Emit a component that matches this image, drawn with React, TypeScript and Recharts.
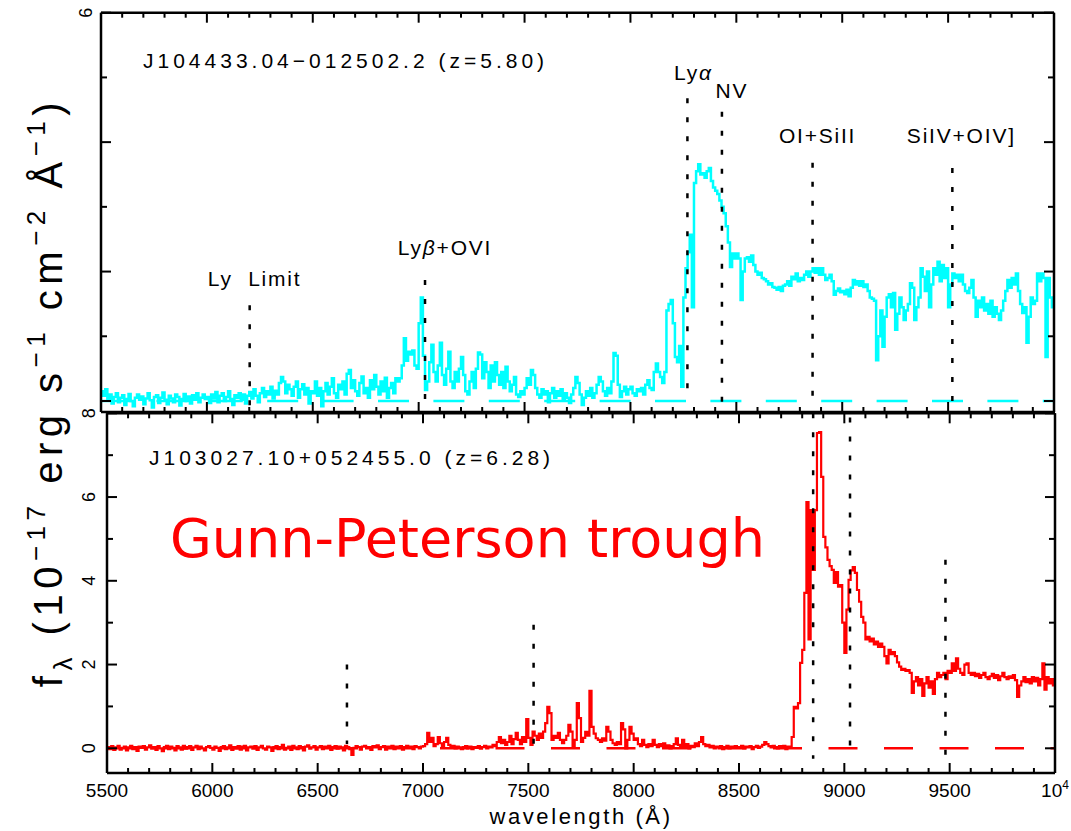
import React from 'react';
import { LineChart, Line, XAxis, YAxis, ReferenceLine } from 'recharts';

const FONT = '"Liberation Sans", Arial, Helvetica, sans-serif';
const CYAN = '#00ffff';
const RED = '#ff0000';

// spectra are binned at 10 Å starting from 5500 Å; flux in 1e-17 erg/s/cm^2/Å
const BIN = 10;
const START = 5500;

// J104433.04-012502.2 (z=5.80)
const top5500 = [
  0.15, 0.08, 0.18, 0.02, 0.1, -0.04, 0.06, 0.12, -0.02, 0.05,
  0.09, -0.06, 0.03, 0.11, 0.0, -0.08, 0.05, 0.1, 0.02, 0.07,
  -0.05, 0.04, 0.12, 0.01, -0.1, 0.06, 0.09, -0.03, 0.05, 0.13,
  0.02, -0.05, 0.08, 0.04, -0.02, 0.1, 0.06, -0.07, 0.03, 0.11,
  0.0, 0.07, -0.04, 0.09, 0.02, 0.12, -0.02, 0.05, 0.1, 0.03,
];
const top6000 = [
  0.06, -0.03, 0.1, 0.04, 0.14, -0.02, 0.08, 0.12, 0.0, 0.06,
  0.15, 0.03, -0.06, 0.09, 0.05, 0.12, 0.02, 0.1, -0.04, 0.08,
  0.14, 0.04, 0.18, 0.08, -0.02, 0.12, 0.2, 0.06, 0.15, 0.1,
  0.22, 0.04, 0.16, 0.1, 0.28, 0.37, 0.3, 0.12, 0.25, 0.18,
  0.08, 0.22, 0.3, 0.05, 0.18, 0.26, 0.1, 0.2, -0.04, 0.15,
];
const top6500 = [
  0.12, 0.3, 0.08, 0.2, -0.08, 0.15, 0.28, 0.1, 0.22, 0.35,
  0.12, 0.05, 0.25, 0.18, 0.3, 0.1, 0.42, 0.48, 0.2, 0.32,
  0.15, 0.08, 0.28, 0.38, 0.12, 0.2, 0.05, 0.32, 0.18, 0.4,
  0.22, 0.1, 0.3, 0.15, 0.36, 0.05, 0.2, 0.28, 0.12, 0.35,
  0.3, 0.35, 0.55, 0.97, 0.62, 0.76, 0.72, 0.78, 0.55, 0.5,
];
const top7000 = [
  1.2, 1.6, 0.7, 0.17, 0.3, 0.6, 0.87, 0.45, 0.3, 0.55,
  0.9, 0.4, 0.25, 0.5, 0.76, 0.3, 0.2, 0.45, 0.3, 0.5,
  0.68, 0.4, 0.15, 0.1, 0.3, 0.45, 0.2, 0.5, 0.75, 0.72,
  0.35, 0.6, 0.45, 0.2, 0.55, 0.3, 0.6, 0.4, 0.25, 0.45,
  0.2, 0.53, 0.3, 0.15, 0.25, 0.37, 0.1, 0.06, 0.15, 0.1,
];
const top7500 = [
  0.2, 0.35, 0.25, 0.48, 0.4, 0.2, 0.1, 0.05, 0.18, 0.1,
  0.15, -0.02, 0.12, 0.2, 0.05, 0.15, 0.08, 0.18, 0.02, 0.12,
  0.05, -0.03, 0.1, 0.2, 0.37, 0.28, 0.1, -0.06, 0.05, 0.15,
  0.08, 0.2, 0.05, 0.12, 0.25, 0.37, 0.3, 0.15, 0.08, 0.2,
  0.12, 0.3, 0.74, 0.7, 0.25, 0.06, 0.15, 0.22, 0.1, 0.18,
];
const top8000 = [
  0.22, 0.12, 0.08, 0.18, 0.15, 0.2, 0.1, 0.25, 0.32, 0.2,
  0.17, 0.45, 0.58, 0.45, 0.37, 0.28, 0.45, 1.4, 1.5, 1.56,
  1.2, 0.68, 0.6, 0.85, 0.22, 1.6, 2.05, 2.3, 2.57, 1.45,
  3.37, 3.55, 3.66, 3.5, 3.52, 3.45, 3.55, 3.6, 3.4, 3.3,
  3.25, 3.2, 3.1, 3.0, 2.9, 2.7, 2.45, 2.07, 2.28, 2.2,
];
const top8500 = [
  2.28, 2.2, 1.56, 2.0, 2.2, 2.22, 2.15, 2.25, 2.1, 2.0,
  1.95, 1.98, 1.9, 1.88, 1.85, 1.8, 1.82, 1.76, 1.75, 1.72,
  1.76, 1.7, 1.78, 1.8, 1.85, 1.78, 1.92, 1.88, 1.97, 1.85,
  1.9, 1.87, 1.95, 2.0, 1.92, 2.0, 2.05, 1.98, 2.05, 1.95,
  2.05, 1.95, 1.87, 1.9, 1.95, 1.85, 1.64, 1.7, 1.74, 1.68,
];
const top9000 = [
  1.7, 1.65, 1.72, 1.62, 1.75, 1.87, 1.8, 1.85, 1.78, 1.85,
  1.76, 1.8, 1.7, 1.6, 1.58, 1.55, 0.63, 1.0, 1.4, 0.84,
  1.3, 1.6, 1.65, 1.45, 1.67, 1.1, 1.35, 1.6, 1.45, 1.25,
  1.4, 1.5, 1.82, 1.75, 1.25, 1.45, 1.6, 2.05, 1.92, 1.7,
  2.0, 1.45, 1.8, 2.05, 1.95, 2.15, 1.85, 2.1, 1.9, 2.05,
];
const top9500 = [
  1.45, 1.8, 1.97, 1.9, 1.95, 1.85, 1.95, 1.8, 1.7, 1.67,
  1.75, 1.87, 1.6, 1.3, 1.55, 1.45, 1.6, 1.4, 1.5, 1.35,
  1.55, 1.3, 1.45, 1.35, 1.25, 1.4, 1.55, 1.7, 1.87, 1.75,
  1.9, 1.8, 1.97, 1.7, 1.5, 1.36, 1.45, 0.9, 1.3, 1.6,
  1.5, 1.55, 1.97, 1.85, 1.97, 1.9, 0.68, 1.9, 1.6, 1.45,
  1.5,
];

// J103027.10+052455.0 (z=6.28)
const low5500 = [
  0.03, -0.02, 0.05, -0.04, 0.02, 0.06, -0.03, 0.01, 0.04, -0.05,
  0.02, 0.06, -0.02, 0.03, -0.06, 0.04, 0.01, 0.05, -0.03, 0.02,
  0.07, -0.01, 0.03, -0.04, 0.05, 0.0, -0.07, 0.03, 0.06, -0.02,
  0.04, 0.01, -0.05, 0.05, 0.02, -0.03, 0.06, -0.01, 0.03, 0.05,
  -0.04, 0.02, 0.06, -0.02, 0.04, 0.0, -0.05, 0.03, 0.05, 0.01,
];
const low6000 = [
  -0.03, 0.04, 0.01, -0.06, 0.03, 0.05, -0.02, 0.02, 0.07, -0.04,
  0.03, 0.0, 0.05, -0.03, 0.04, 0.06, -0.05, 0.02, 0.04, -0.01,
  0.05, -0.04, 0.02, 0.06, 0.0, -0.03, 0.04, 0.02, -0.06, 0.03,
  0.05, -0.02, 0.03, 0.08, -0.03, 0.01, 0.04, -0.04, 0.06, 0.02,
  -0.02, 0.05, 0.03, -0.05, 0.04, 0.07, -0.01, 0.02, 0.05, -0.03,
];
const low6500 = [
  0.02, 0.05, -0.02, 0.04, 0.0, 0.06, -0.04, 0.03, 0.05, -0.01,
  0.04, 0.02, -0.05, 0.06, 0.03, -0.02, -0.16, 0.01, 0.05, 0.03,
  -0.03, 0.04, 0.06, 0.0, 0.03, -0.04, 0.05, 0.02, 0.07, -0.02,
  0.03, 0.05, -0.03, 0.04, 0.01, 0.06, -0.02, 0.04, 0.02, 0.05,
  -0.03, 0.03, 0.06, 0.01, 0.04, -0.02, 0.05, 0.03, 0.0, 0.04,
];
const low7000 = [
  0.05, 0.1, 0.37, 0.15, 0.25, 0.05, 0.1, 0.27, 0.12, 0.05,
  0.15, 0.25, 0.08, 0.03, 0.06, 0.0, 0.04, 0.02, -0.02, 0.03,
  0.05, 0.0, 0.04, -0.02, 0.03, 0.01, 0.05, -0.01, 0.03, 0.06,
  0.0, 0.04, 0.02, 0.08, 0.05, 0.15, 0.27, 0.12, 0.2, 0.08,
  0.15, 0.3, 0.1, 0.22, 0.37, 0.2, 0.1, 0.27, 0.15, 0.7,
];
const low7500 = [
  0.25, 0.08, 0.4, 0.3, 0.2, 0.35, 0.25, 0.4, 0.6, 0.99,
  0.84, 0.2, 0.3, 0.25, 0.37, 0.2, 0.12, 0.2, 0.3, 0.56,
  0.4, 0.03, 0.2, 1.08, 0.72, 0.15, 0.25, 0.39, 0.3, 1.37,
  0.51, 0.35, 0.24, 0.2, 0.15, 0.24, 0.18, 0.51, 0.4, 0.2,
  0.12, 0.08, 0.15, 0.1, 0.6, 0.45, 0.0, 0.2, 0.51, 0.35,
];
const low8000 = [
  0.2, 0.24, 0.1, 0.05, 0.2, 0.08, 0.03, 0.1, 0.05, 0.2,
  0.08, 0.03, 0.1, 0.05, 0.12, 0.02, 0.07, 0.0, 0.05, 0.1,
  0.24, 0.08, 0.03, 0.2, 0.05, 0.1, 0.0, 0.06, 0.03, 0.12,
  0.05, 0.15, 0.27, 0.1, 0.05, 0.08, 0.02, 0.06, 0.0, 0.04,
  0.02, 0.05, -0.02, 0.03, 0.06, 0.0, 0.04, 0.02, 0.05, 0.01,
];
const low8500 = [
  0.03, 0.06, 0.0, 0.04, 0.02, 0.05, -0.02, 0.03, 0.06, 0.01,
  0.04, 0.08, 0.15, 0.1, 0.05, 0.02, 0.06, 0.03, 0.0, 0.05,
  0.02, 0.06, -0.02, 0.04, 0.01, 0.27, 0.99, 0.95, 1.08, 2.04,
  2.35, 3.71, 5.88, 2.6, 5.69, 4.26, 5.69, 7.53, 7.55, 6.48,
  5.05, 4.8, 4.5, 4.35, 4.26, 3.95, 4.21, 3.86, 3.9, 3.0,
];
const low9000 = [
  2.28, 3.31, 4.02, 4.25, 4.33, 4.19, 3.78, 3.5, 3.14, 3.0,
  2.6, 2.66, 2.55, 2.62, 2.48, 2.55, 2.42, 2.5, 2.42, 2.2,
  2.03, 2.35, 2.25, 2.3, 2.2, 2.05, 1.95, 1.87, 1.9, 1.85,
  1.87, 1.8, 1.32, 1.6, 1.7, 1.5, 1.65, 1.25, 1.55, 1.7,
  1.45, 1.6, 1.3, 1.65, 1.8, 1.7, 1.75, 1.8, 1.65, 1.85,
];
const low9500 = [
  1.8, 2.03, 1.85, 2.15, 1.9, 1.8, 1.75, 2.0, 2.03, 1.8,
  1.75, 1.8, 1.72, 1.78, 1.68, 1.75, 1.8, 1.7, 1.65, 1.72,
  1.78, 1.68, 1.75, 1.63, 1.72, 1.8, 1.7, 1.65, 1.72, 1.68,
  1.75, 1.63, 1.23, 1.5, 1.6, 1.7, 1.58, 1.65, 1.55, 1.7,
  1.6, 1.68, 1.5, 1.65, 2.03, 1.4, 1.7, 1.55, 1.65, 1.5,
  1.55,
];

// emission line positions (observed Å) and the flux range each marker spans
const topMarkers = [
  { name: 'Ly  Limit', wave: 6202, top: 1.48, bottom: -0.17 },
  { name: 'Lyβ+OVI', wave: 7030, top: 1.87, bottom: 0 },
  { name: 'Lyα', wave: 8269, top: 4.68, bottom: 0 },
  { name: 'NV', wave: 8432, top: 4.47, bottom: -0.11 },
  { name: 'OI+SiII', wave: 8860, top: 3.68, bottom: 0 },
  { name: 'SiIV+OIV]', wave: 9520, top: 3.6, bottom: -0.06 },
];
const lowMarkers = [
  { wave: 6639, top: 2.0, bottom: 0.1 },
  { wave: 7525, top: 2.95, bottom: 0.08 },
  { wave: 8852, top: 8, bottom: -0.25 },
  { wave: 9027, top: 7.9, bottom: -0.1 },
  { wave: 9480, top: 4.5, bottom: -0.23 },
];

const waveTicks = Array.from({ length: 46 }, (_, i) => 5500 + i * 100);
const topFluxTicks = [0, 1, 2, 3, 4, 5, 6];
const lowFluxTicks = [0, 1, 2, 3, 4, 5, 6, 7, 8];

const toSpectrum = (flux: number[]) => flux.map((f, i) => ({ w: START + i * BIN, f }));
const topSpectrum = toSpectrum([...top5500, ...top6000, ...top6500, ...top7000, ...top7500, ...top8000, ...top8500, ...top9000, ...top9500]);
const lowSpectrum = toSpectrum([...low5500, ...low6000, ...low6500, ...low7000, ...low7500, ...low8000, ...low8500, ...low9000, ...low9500]);
const zeroLevel = [{ w: 5500, f: 0 }, { w: 10000, f: 0 }];

// label placement next to each marker: [dx, lift] in pixels
const labelNudge: Record<string, [number, number]> = {
  'Ly  Limit': [5, 19],
  'Lyβ+OVI': [20, 25],
  'Lyα': [6, 18],
  'NV': [10, 14],
  'OI+SiII': [5, 20],
  'SiIV+OIV]': [9, 25],
};

const frame = { stroke: '#000', strokeWidth: 2.5 };

const withGreek = (s: string) =>
  s.split(/([αβ])/).map((part, i) =>
    /[αβ]/.test(part) ? <tspan key={i} fontStyle="italic">{part}</tspan> : part
  );

const XTick = (props: any) => {
  const { x, y, payload, edge, labelled } = props;
  const v = payload.value as number;
  const major = v % 500 === 0;
  const len = major ? 10 : 5;
  const dir = edge === 'bottom' ? -1 : 1;
  return (
    <g>
      <line x1={x} y1={y} x2={x} y2={y + dir * len} stroke="#000" strokeWidth={2} />
      {labelled && major && (
        <text x={x} y={y + 24} textAnchor="middle" fontSize={19} fontFamily={FONT} fill="#000">
          {v === 10000 ? <>10<tspan dy={-8} fontSize={12}>4</tspan></> : v}
        </text>
      )}
    </g>
  );
};

const YTick = (props: any) => {
  const { x, y, payload, edge, labels, gap } = props;
  const v = payload.value as number;
  const major = v % 2 === 0;
  const len = major ? 10 : 6;
  const dir = edge === 'left' ? 1 : -1;
  return (
    <g>
      <line x1={x} y1={y} x2={x + dir * len} y2={y} stroke="#000" strokeWidth={2} />
      {labels && labels.includes(v) && (
        <text transform={`translate(${x - gap},${y}) rotate(-90)`} textAnchor="middle" fontSize={18} fontFamily={FONT} fill="#000">
          {v}
        </text>
      )}
    </g>
  );
};

const markerLabel = (name: string) => (p: any) => {
  const vb = p.viewBox;
  const [dx, lift] = labelNudge[name];
  return (
    <text x={vb.x + dx} y={vb.y - lift} textAnchor="middle" fontSize={21} fontFamily={FONT} fill="#000"
      style={{ letterSpacing: 1.8, whiteSpace: 'pre' }}>
      {withGreek(name)}
    </text>
  );
};

const axisCommon = {
  type: 'number' as const,
  allowDataOverflow: true,
  interval: 0 as const,
  tickLine: false,
  tickSize: 0,
  tickMargin: 0,
  axisLine: frame,
};

export default function App() {
  return (
    <div style={{ position: 'absolute', left: 0, top: 0, width: 1071, height: 831, background: '#fff' }}>
      <div style={{ position: 'absolute', left: 0, top: 0 }}>
        <LineChart width={1071} height={431} margin={{ top: 0, right: 0, bottom: 0, left: 0 }}>
          <XAxis {...axisCommon} xAxisId="bottom" orientation="bottom" dataKey="w" domain={[5500, 10000]} ticks={waveTicks} height={19}
            tick={(p: any) => <XTick {...p} edge="bottom" />} />
          <XAxis {...axisCommon} xAxisId="top" orientation="top" dataKey="w" domain={[5500, 10000]} ticks={waveTicks} height={12.7}
            tick={(p: any) => <XTick {...p} edge="top" />} />
          <YAxis {...axisCommon} yAxisId="left" domain={[-0.17, 6]} ticks={topFluxTicks} width={101}
            tick={(p: any) => <YTick {...p} edge="left" labels={[6]} gap={9} />} />
          <YAxis {...axisCommon} yAxisId="right" orientation="right" domain={[-0.17, 6]} ticks={topFluxTicks} width={17}
            tick={(p: any) => <YTick {...p} edge="right" />} />
          <Line xAxisId="top" yAxisId="right" data={zeroLevel} dataKey="f" stroke={CYAN} strokeWidth={2.5}
            strokeDasharray="31 24.4" dot={false} activeDot={false} isAnimationActive={false} />
          <Line xAxisId="bottom" yAxisId="left" data={topSpectrum} dataKey="f" type="stepAfter" stroke={CYAN}
            strokeWidth={2.5} dot={false} activeDot={false} isAnimationActive={false} />
          {topMarkers.map((m) => (
            <ReferenceLine key={m.name} xAxisId="bottom" yAxisId="left" ifOverflow="visible"
              segment={[{ x: m.wave, y: m.top }, { x: m.wave, y: m.bottom }]}
              stroke="#000" strokeWidth={2.5} strokeDasharray="5 14" label={markerLabel(m.name)} />
          ))}
        </LineChart>
      </div>

      <div style={{ position: 'absolute', left: 0, top: 400 }}>
        <LineChart width={1071} height={431} margin={{ top: 0, right: 0, bottom: 0, left: 0 }}>
          <XAxis {...axisCommon} xAxisId="bottom" orientation="bottom" dataKey="w" domain={[5500, 10000]} ticks={waveTicks} height={58}
            tick={(p: any) => <XTick {...p} edge="bottom" labelled />} />
          <XAxis {...axisCommon} xAxisId="top" orientation="top" dataKey="w" domain={[5500, 10000]} ticks={waveTicks} height={13.3}
            tick={(p: any) => <XTick {...p} edge="top" />} />
          <YAxis {...axisCommon} yAxisId="left" domain={[-0.59, 8]} ticks={lowFluxTicks} width={107}
            tick={(p: any) => <YTick {...p} edge="left" labels={[0, 2, 4, 6, 8]} gap={12} />} />
          <YAxis {...axisCommon} yAxisId="right" orientation="right" domain={[-0.59, 8]} ticks={lowFluxTicks} width={16}
            tick={(p: any) => <YTick {...p} edge="right" />} />
          <Line xAxisId="top" yAxisId="right" data={zeroLevel} dataKey="f" stroke={RED} strokeWidth={2.5}
            strokeDasharray="29 26.5" dot={false} activeDot={false} isAnimationActive={false} />
          <Line xAxisId="bottom" yAxisId="left" data={lowSpectrum} dataKey="f" type="stepAfter" stroke={RED}
            strokeWidth={2.2} dot={false} activeDot={false} isAnimationActive={false} />
          {lowMarkers.map((m) => (
            <ReferenceLine key={m.wave} xAxisId="bottom" yAxisId="left" ifOverflow="visible"
              segment={[{ x: m.wave, y: m.top }, { x: m.wave, y: m.bottom }]}
              stroke="#000" strokeWidth={2.5} strokeDasharray="5 14" />
          ))}
        </LineChart>
      </div>

      <svg width={1071} height={831} style={{ position: 'absolute', left: 0, top: 0, pointerEvents: 'none' }}>
        <text x={143} y={68} fontSize={21} fontFamily={FONT} fill="#000" style={{ letterSpacing: 4 }}>
          J104433.04−012502.2 (z=5.80)
        </text>
        <text x={149} y={465} fontSize={21} fontFamily={FONT} fill="#000" style={{ letterSpacing: 4 }}>
          J103027.10+052455.0 (z=6.28)
        </text>
        <text x={170} y={557} fontSize={54} fontFamily='"Comic Sans MS", "DejaVu Sans", sans-serif' fill={RED}>
          Gunn-Peterson trough
        </text>
        <text x={581} y={824} textAnchor="middle" fontSize={22} fontFamily={FONT} fill="#000" style={{ letterSpacing: 2.6 }}>
          wavelength (Å)
        </text>
        <text transform="translate(62,392) rotate(-90)" textAnchor="middle" fontSize={40} fontFamily={FONT} fill="#000" style={{ letterSpacing: 5.5 }}>
          f<tspan dy={10} fontSize={26}>λ</tspan>
          <tspan dy={-10}> (10</tspan>
          <tspan dy={-17} fontSize={26}>−17</tspan>
          <tspan dy={17}> erg s</tspan>
          <tspan dy={-17} fontSize={26}>−1</tspan>
          <tspan dy={17}> cm</tspan>
          <tspan dy={-17} fontSize={26}>−2</tspan>
          <tspan dy={17}> Å</tspan>
          <tspan dy={-17} fontSize={26}>−1</tspan>
          <tspan dy={17}>)</tspan>
        </text>
      </svg>
    </div>
  );
}
